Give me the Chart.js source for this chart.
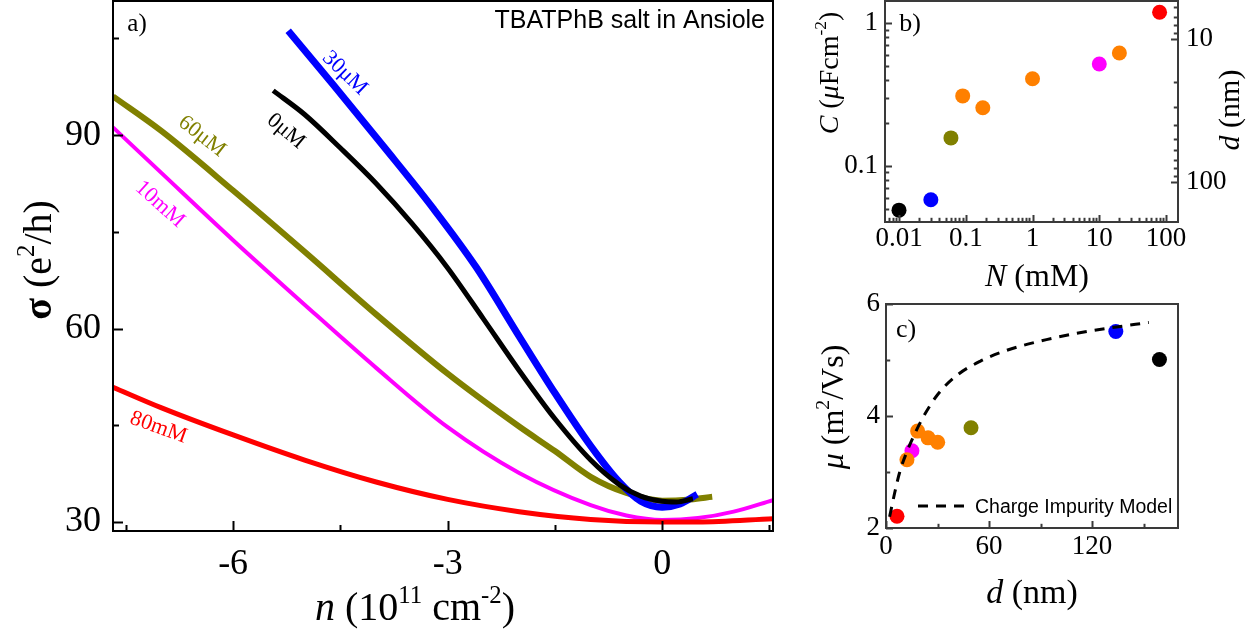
<!DOCTYPE html>
<html>
<head>
<meta charset="utf-8">
<script src="https://cdn.jsdelivr.net/npm/chart.js@4.4.0/dist/chart.umd.min.js"></script>
<style>
  body { margin: 0; background: #fff; width: 1255px; height: 630px; overflow: hidden; position: relative; }
  canvas { position: absolute; }
</style>
</head>
<body>
<canvas id="chartA" width="800" height="630" style="left:0;top:0"></canvas>
<canvas id="chartB" width="455" height="300" style="left:800px;top:0"></canvas>
<canvas id="chartC" width="455" height="340" style="left:800px;top:290px"></canvas>
<script>
// ---- panel a: sigma (e^2/h) vs n (10^11 cm^-2), one pair per concentration
const n0uM   = [-5.44, -5.0, -4.5, -4.0, -3.5, -3.0, -2.5, -2.0, -1.5, -1.0, -0.6, -0.3, 0.0, 0.2, 0.43]
const sig0uM = [96.9, 93.2, 88.0, 82.5, 76.3, 69.4, 61.5, 53.5, 46.0, 39.6, 35.8, 34.0, 33.2, 33.1, 33.6]
const n30uM   = [-5.23, -4.6, -3.9, -3.2, -2.6, -2.0, -1.5, -1.0, -0.6, -0.3, 0.0, 0.25, 0.49]
const sig30uM = [106.2, 97.8, 88.3, 78.6, 69.5, 58.8, 50.0, 41.8, 36.2, 33.2, 32.3, 32.8, 34.3]
const n60uM   = [-7.68, -7.0, -6.0, -5.0, -4.0, -3.0, -2.0, -1.5, -1.0, -0.5, 0.0, 0.4, 0.7]
const sig60uM = [96.0, 90.6, 81.4, 71.9, 62.2, 53.0, 44.8, 41.0, 37.0, 34.5, 33.3, 33.5, 33.9]
const n10mM   = [-7.68, -7.0, -6.0, -5.0, -4.0, -3.0, -2.0, -1.0, -0.5, 0.0, 0.5, 1.0, 1.55]
const sig10mM = [91.2, 84.1, 73.7, 63.7, 53.9, 44.7, 37.6, 32.6, 31.0, 30.3, 30.6, 31.6, 33.4]
const n80mM   = [-7.68, -7.0, -6.0, -5.0, -4.0, -3.0, -2.0, -1.0, 0.0, 0.5, 1.55]
const sig80mM = [50.9, 47.7, 43.5, 39.6, 36.2, 33.5, 31.6, 30.4, 30.0, 30.0, 30.5]
const aXTicks = [-6, -3, 0], aXMinor = [-7.5, -4.5, -1.5, 1.5]
const aYTicks = [30, 60, 90], aYMinor = [45, 75, 105]

// ---- panel b: capacitance vs salt concentration
const concN = [0.01, 0.03, 0.06, 0.09, 0.18, 1, 10, 20, 80]
const capC  = [0.049, 0.058, 0.157, 0.309, 0.255, 0.407, 0.517, 0.617, 1.19]
const bColors = ['#000000', '#0000ff', '#808000', '#ff8000', '#ff8000', '#ff8000', '#ff00ff', '#ff8000', '#ff0000']
const bXTicks = [0.01, 0.1, 1, 10, 100], bYTicks = [0.1, 1], bDTicks = [10, 100]

// ---- panel c: mobility vs d
const thickD = [6.4, 15.1, 12.2, 18.4, 24.5, 30.1, 49.5, 133.8, 159.2]
const mob    = [2.21, 3.38, 3.22, 3.73, 3.61, 3.53, 3.79, 5.51, 5.01]
const cColors = ['#ff0000', '#ff00ff', '#ff8000', '#ff8000', '#ff8000', '#ff8000', '#808000', '#0000ff', '#000000']
const modelD  = [2.1, 5, 8, 12, 17, 22, 30, 41, 55, 70, 90, 110, 130, 153]
const modelMu = [2.2, 2.62, 3.0, 3.35, 3.7, 4.0, 4.38, 4.72, 4.98, 5.17, 5.34, 5.47, 5.57, 5.67]
const cXTicks = [0, 60, 120], cXMinor = [30, 90, 150]
const cYTicks = [2, 4, 6], cYMinor = [3, 5]

const SERIF = 'Liberation Serif'
const SANS = 'Liberation Sans'

function logMinor(lo, hi) {
  const out = []
  for (let e = Math.floor(Math.log10(lo)); e <= Math.ceil(Math.log10(hi)); e++) {
    for (let m = 2; m <= 9; m++) {
      const v = m * Math.pow(10, e)
      if (v > lo && v < hi) out.push(v)
    }
  }
  return out
}

function pts(xs, ys) { return xs.map((x, i) => ({ x: x, y: ys[i] })) }

function curve(label, xs, ys, color, w) {
  return { label: label, data: pts(xs, ys), borderColor: color, borderWidth: w,
    pointRadius: 0, cubicInterpolationMode: 'monotone', fill: false }
}

// box round the plot area + inward tick marks
function framePlugin(color, lw, tickSets) {
  return {
    id: 'frame',
    afterDatasetsDraw(chart) {
      const ctx = chart.ctx, a = chart.chartArea
      ctx.save()
      ctx.strokeStyle = color
      ctx.lineWidth = lw
      ctx.strokeRect(a.left, a.top, a.right - a.left, a.bottom - a.top)
      tickSets.forEach(t => {
        const sc = chart.scales[t.id]
        const mark = (v, len) => {
          const p = Math.round(sc.getPixelForValue(v)) + 0.5
          ctx.beginPath()
          if (sc.isHorizontal()) { ctx.moveTo(p, a.bottom); ctx.lineTo(p, a.bottom - len) }
          else if (sc.position === 'left') { ctx.moveTo(a.left, p); ctx.lineTo(a.left + len, p) }
          else { ctx.moveTo(a.right, p); ctx.lineTo(a.right - len, p) }
          ctx.stroke()
        }
        t.major.forEach(v => mark(v, t.len))
        t.minor.forEach(v => mark(v, t.len * 0.6))
      })
      ctx.restore()
    }
  }
}

// text with italic / superscript pieces: parts are strings or [text, flags]
function drawRich(ctx, it) {
  const fam = it.family || SERIF
  const parts = it.parts.map(p => typeof p === 'string' ? { t: p, f: '' } : { t: p[0], f: p[1] })
  const fontOf = p => (p.f.includes('i') ? 'italic ' : '') + (p.f.includes('b') ? 'bold ' : '') +
    (p.f.includes('s') ? it.size * 0.62 : it.size) + 'px "' + fam + '"'
  let w = 0
  parts.forEach(p => { ctx.font = fontOf(p); p.w = ctx.measureText(p.t).width; w += p.w })
  ctx.save()
  ctx.translate(it.x, it.y)
  ctx.rotate((it.rot || 0) * Math.PI / 180)
  ctx.fillStyle = it.color || '#000'
  ctx.textBaseline = 'alphabetic'
  let x = it.align === 'right' ? -w : it.align === 'left' ? 0 : -w / 2
  const base = it.size * 0.34
  parts.forEach(p => {
    ctx.font = fontOf(p)
    ctx.fillText(p.t, x, p.f.includes('s') ? base - it.size * 0.42 : base)
    x += p.w
  })
  ctx.restore()
}

function textPlugin(items) {
  return { id: 'texts', afterDraw(chart) { items.forEach(it => drawRich(chart.ctx, it)) } }
}

function fixTicks(values) {
  return s => { s.ticks = values.map(v => ({ value: v })) }
}

// force the axis box size and drop the label overhang padding chart.js adds
function fitTo(prop, size) {
  return s => {
    s[prop] = size
    s.paddingTop = 0; s.paddingBottom = 0; s.paddingLeft = 0; s.paddingRight = 0
  }
}

function axis(extra, font, pad) {
  return Object.assign({
    grid: { display: false, drawTicks: false },
    border: { display: false },
    ticks: { font: { family: SERIF, size: font }, color: '#000', padding: pad, maxRotation: 0, callback: v => String(v) }
  }, extra)
}

const common = {
  responsive: false, animation: false, devicePixelRatio: 1,
  plugins: { legend: { display: false }, tooltip: { enabled: false } }
}

function layoutPad(top, right) {
  return { autoPadding: false, padding: { top: top, right: right, left: 0, bottom: 0 } }
}

// ---------------- panel a
new Chart(document.getElementById('chartA'), {
  type: 'line',
  data: { datasets: [
    curve('80mM', n80mM, sig80mM, '#ff0000', 5),
    curve('10mM', n10mM, sig10mM, '#ff00ff', 4),
    curve('0μM', n0uM, sig0uM, '#000000', 5),
    curve('30μM', n30uM, sig30uM, '#0000ff', 7),
    curve('60μM', n60uM, sig60uM, '#808000', 6)
  ] },
  options: Object.assign({}, common, {
    layout: layoutPad(1, 27),
    scales: {
      x: axis({ type: 'linear', min: -7.68, max: 1.55, afterBuildTicks: fixTicks(aXTicks), afterFit: fitTo('height', 99) }, 36, 12),
      y: axis({ type: 'linear', min: 28.6, max: 110.8, afterBuildTicks: fixTicks(aYTicks), afterFit: fitTo('width', 113) }, 36, 12)
    }
  }),
  plugins: [
    framePlugin('#000', 2, [
      { id: 'x', major: aXTicks, minor: aXMinor, len: 10 },
      { id: 'y', major: aYTicks, minor: aYMinor, len: 10 }
    ]),
    textPlugin([
      { parts: ['a)'], x: 137, y: 22, size: 25 },
      { parts: ['TBATPhB salt in Ansiole'], x: 765, y: 19, size: 25, family: SANS, align: 'right' },
      { parts: [['n', 'i'], ' (10', ['11', 's'], ' cm', ['-2', 's'], ')'], x: 415, y: 606, size: 40 },
      { parts: [['σ', 'b'], ' (e', ['2', 's'], '/h)'], x: 37, y: 260, size: 40, rot: -90 },
      { parts: ['30μM'], x: 346, y: 72, size: 22, rot: 44, color: '#0000ff' },
      { parts: ['0μM'], x: 287, y: 130, size: 22, rot: 40, color: '#000' },
      { parts: ['60μM'], x: 203, y: 135, size: 22, rot: 38, color: '#808000' },
      { parts: ['10mM'], x: 161, y: 203, size: 22, rot: 42, color: '#ff00ff' },
      { parts: ['80mM'], x: 159, y: 426, size: 22, rot: 20, color: '#ff0000' }
    ])
  ]
})

// ---------------- panel b
new Chart(document.getElementById('chartB'), {
  type: 'scatter',
  data: { datasets: [{ label: 'C', data: pts(concN, capC), backgroundColor: bColors, borderWidth: 0, pointRadius: 7.5, clip: false }] },
  options: Object.assign({}, common, {
    layout: layoutPad(1, 0),
    scales: {
      x: axis({ type: 'logarithmic', min: 0.00617, max: 151, afterBuildTicks: fixTicks(bXTicks), afterFit: fitTo('height', 78) }, 27, 1),
      y: axis({ type: 'logarithmic', position: 'left', min: 0.0405, max: 1.425, afterBuildTicks: fixTicks(bYTicks), afterFit: fitTo('width', 85) }, 27, 7),
      d: axis({ type: 'logarithmic', position: 'right', reverse: true, min: 5.42, max: 190, afterBuildTicks: fixTicks(bDTicks), afterFit: fitTo('width', 77) }, 27, 8)
    }
  }),
  plugins: [
    framePlugin('#3a3a3a', 2, [
      { id: 'x', major: bXTicks, minor: logMinor(0.00617, 151), len: 7 },
      { id: 'y', major: bYTicks, minor: logMinor(0.0405, 1.425), len: 7 },
      { id: 'd', major: bDTicks, minor: logMinor(5.42, 190), len: 7 }
    ]),
    textPlugin([
      { parts: ['b)'], x: 110, y: 22, size: 26 },
      { parts: [['N', 'i'], ' (mM)'], x: 237, y: 275, size: 32 },
      { parts: [['C', 'i'], ' (', ['μ', 'i'], 'Fcm', ['-2', 's'], ')'], x: 28, y: 73, size: 28, rot: -90 },
      { parts: [['d', 'i'], ' (nm)'], x: 429, y: 110, size: 30, rot: -90 }
    ])
  ]
})

// ---------------- panel c
const dashLegend = {
  id: 'dashLegend',
  afterDraw(chart) {
    const ctx = chart.ctx, ds = chart.data.datasets[0]
    ctx.save()
    ctx.strokeStyle = ds.borderColor
    ctx.lineWidth = ds.borderWidth
    ctx.setLineDash(ds.borderDash)
    ctx.beginPath(); ctx.moveTo(118, 216); ctx.lineTo(168, 216); ctx.stroke()
    ctx.restore()
    drawRich(ctx, { parts: [ds.label], x: 175, y: 216, size: 19.5, family: SANS, align: 'left' })
  }
}

new Chart(document.getElementById('chartC'), {
  data: { datasets: [
    { type: 'line', label: 'Charge Impurity Model', data: pts(modelD, modelMu), borderColor: '#000', borderWidth: 3,
      borderDash: [10, 8], pointRadius: 0, cubicInterpolationMode: 'monotone', fill: false, order: 0 },
    { type: 'scatter', label: 'mu', data: pts(thickD, mob), backgroundColor: cColors, borderWidth: 0, pointRadius: 7.5, order: 1, clip: false }
  ] },
  options: Object.assign({}, common, {
    layout: layoutPad(14, 77),
    scales: {
      x: axis({ type: 'linear', min: 0, max: 170, afterBuildTicks: fixTicks(cXTicks), afterFit: fitTo('height', 102) }, 27, 3),
      y: axis({ type: 'linear', min: 2, max: 6, afterBuildTicks: fixTicks(cYTicks), afterFit: fitTo('width', 86) }, 27, 6)
    }
  }),
  plugins: [
    framePlugin('#3a3a3a', 2, [
      { id: 'x', major: cXTicks, minor: cXMinor, len: 7 },
      { id: 'y', major: cYTicks, minor: cYMinor, len: 7 }
    ]),
    dashLegend,
    textPlugin([
      { parts: ['c)'], x: 106, y: 38, size: 26 },
      { parts: [['μ', 'i'], ' (m', ['2', 's'], '/Vs)'], x: 32, y: 117, size: 32, rot: -90 },
      { parts: [['d', 'i'], ' (nm)'], x: 232, y: 301, size: 34 }
    ])
  ]
})
</script>
</body>
</html>
